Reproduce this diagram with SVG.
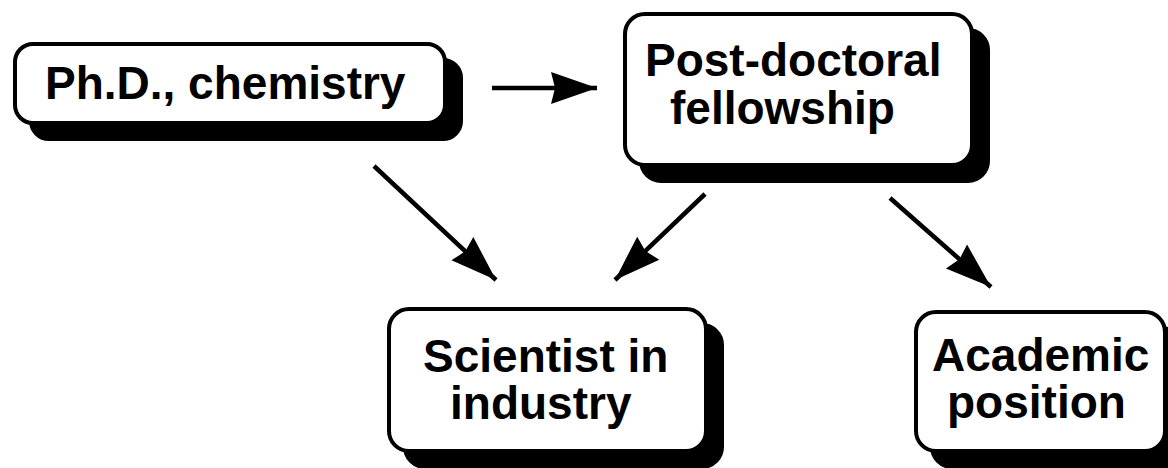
<svg xmlns="http://www.w3.org/2000/svg" width="1168" height="468" viewBox="0 0 1168 468">
<style>
.box{fill:#fff;stroke:#000;stroke-width:4}
.shadow{fill:#000;stroke:#000;stroke-width:4}
.lbl{font-family:"Liberation Sans",Arial,Helvetica,sans-serif;font-weight:bold;font-size:46px;fill:#000}
.edge{stroke:#000;stroke-width:4.5;fill:none}
</style>
<defs>
<marker id="ah" markerUnits="userSpaceOnUse" markerWidth="60" markerHeight="40" refX="0" refY="0" orient="auto" overflow="visible">
<path d="M0,0 L-46,-16 L-42,0 L-46,16 Z" fill="#000"/>
</marker>
</defs>
<rect width="1168" height="468" fill="#fff"/>
<g id="connectors">
<line class="edge" x1="492" y1="88" x2="597" y2="88" marker-end="url(#ah)"/>
<line class="edge" x1="374" y1="166" x2="496" y2="280" marker-end="url(#ah)"/>
<line class="edge" x1="705" y1="194" x2="615" y2="280" marker-end="url(#ah)"/>
<line class="edge" x1="890" y1="198" x2="991" y2="287" marker-end="url(#ah)"/>
</g>
<g id="phd">
<rect class="shadow" x="31" y="60" width="430" height="79" rx="18"/>
<rect class="box" x="15" y="44" width="430" height="79" rx="18"/>
<text class="lbl" x="45" y="99">Ph.D., chemistry</text>
</g>
<g id="postdoc">
<rect class="shadow" x="641" y="30" width="347" height="151" rx="20"/>
<rect class="box" x="625" y="14" width="347" height="151" rx="20"/>
<text class="lbl" x="645" y="76">Post-doctoral</text>
<text class="lbl" x="670" y="124">fellowship</text>
</g>
<g id="industry">
<rect class="shadow" x="405" y="325" width="317" height="142" rx="20"/>
<rect class="box" x="389" y="309" width="317" height="142" rx="20"/>
<text class="lbl" x="423" y="372">Scientist in</text>
<text class="lbl" x="450" y="419">industry</text>
</g>
<g id="academic">
<rect class="shadow" x="932" y="328" width="249" height="139" rx="20"/>
<rect class="box" x="916" y="312" width="249" height="139" rx="20"/>
<text class="lbl" x="932" y="371">Academic</text>
<text class="lbl" x="947" y="418">position</text>
</g>
</svg>
